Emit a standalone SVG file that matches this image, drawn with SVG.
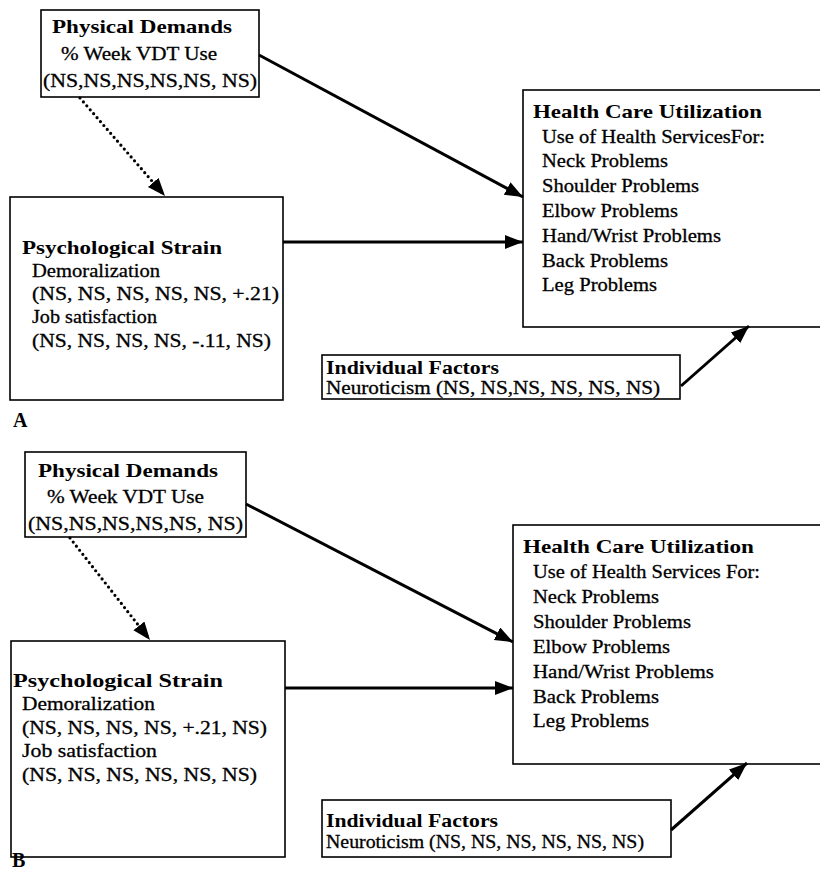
<svg xmlns="http://www.w3.org/2000/svg" width="820" height="872" viewBox="0 0 820 872">
  <style>
    .box { fill: #ffffff; stroke: #000000; stroke-width: 1.6; }
    .t { font-family: "Liberation Serif", "Times New Roman", serif; font-size: 19px; fill: #000000; stroke: #000000; stroke-width: 0.3; }
    .h { font-family: "Liberation Serif", "Times New Roman", serif; font-size: 19px; font-weight: bold; fill: #000000; }
    .lbl { font-family: "Liberation Serif", "Times New Roman", serif; font-size: 20px; font-weight: bold; fill: #000000; }
    .arrow { fill: none; stroke: #000000; stroke-width: 3; marker-end: url(#head); }
    .dotted { fill: none; stroke: #000000; stroke-width: 3.2; stroke-linecap: round; stroke-dasharray: 0 5.2; marker-end: url(#head); }
  </style>
  <defs>
    <marker id="head" markerUnits="userSpaceOnUse" markerWidth="19" markerHeight="15" refX="18" refY="7" orient="auto">
      <path d="M0,0 L18,7 L0,14 Z" fill="#000000"/>
    </marker>
  </defs>
  <rect width="820" height="872" fill="#ffffff"/>

  <!-- Panel A -->
  <g id="a-physical">
    <rect class="box" x="41" y="10" width="218" height="87"/>
    <text class="h" x="52" y="33" textLength="180" lengthAdjust="spacingAndGlyphs">Physical Demands</text>
    <text class="t" x="61" y="60" textLength="156" lengthAdjust="spacingAndGlyphs">% Week VDT Use</text>
    <text class="t" x="43" y="87" textLength="214" lengthAdjust="spacingAndGlyphs">(NS,NS,NS,NS,NS, NS)</text>
  </g>
  <g id="a-psych">
    <rect class="box" x="10" y="197" width="273" height="203"/>
    <text class="h" x="22" y="254" textLength="200" lengthAdjust="spacingAndGlyphs">Psychological Strain</text>
    <text class="t" x="32" y="277" textLength="128" lengthAdjust="spacingAndGlyphs">Demoralization</text>
    <text class="t" x="32" y="300" textLength="247" lengthAdjust="spacingAndGlyphs">(NS, NS, NS, NS, NS, +.21)</text>
    <text class="t" x="32" y="323" textLength="125" lengthAdjust="spacingAndGlyphs">Job satisfaction</text>
    <text class="t" x="32" y="347" textLength="239" lengthAdjust="spacingAndGlyphs">(NS, NS, NS, NS, -.11, NS)</text>
  </g>
  <g id="a-health">
    <rect class="box" x="523" y="90" width="320" height="237"/>
    <text class="h" x="533" y="118" textLength="229" lengthAdjust="spacingAndGlyphs">Health Care Utilization</text>
    <text class="t" x="542" y="143" textLength="223" lengthAdjust="spacingAndGlyphs">Use of Health ServicesFor:</text>
    <text class="t" x="542" y="167" textLength="126" lengthAdjust="spacingAndGlyphs">Neck Problems</text>
    <text class="t" x="542" y="192" textLength="157" lengthAdjust="spacingAndGlyphs">Shoulder Problems</text>
    <text class="t" x="542" y="217" textLength="136" lengthAdjust="spacingAndGlyphs">Elbow Problems</text>
    <text class="t" x="542" y="242" textLength="179" lengthAdjust="spacingAndGlyphs">Hand/Wrist Problems</text>
    <text class="t" x="542" y="267" textLength="126" lengthAdjust="spacingAndGlyphs">Back Problems</text>
    <text class="t" x="542" y="291" textLength="115" lengthAdjust="spacingAndGlyphs">Leg Problems</text>
  </g>
  <g id="a-individual">
    <rect class="box" x="322" y="355" width="358" height="44"/>
    <text class="h" x="326" y="374" textLength="173" lengthAdjust="spacingAndGlyphs">Individual Factors</text>
    <text class="t" x="326" y="394" textLength="334" lengthAdjust="spacingAndGlyphs">Neuroticism (NS, NS,NS, NS, NS, NS)</text>
  </g>
  <text class="lbl" x="13" y="427">A</text>

  <!-- Panel B -->
  <g id="b-physical">
    <rect class="box" x="25" y="452" width="221" height="85"/>
    <text class="h" x="38" y="477" textLength="180" lengthAdjust="spacingAndGlyphs">Physical Demands</text>
    <text class="t" x="47" y="503" textLength="157" lengthAdjust="spacingAndGlyphs">% Week VDT Use</text>
    <text class="t" x="28" y="530" textLength="215" lengthAdjust="spacingAndGlyphs">(NS,NS,NS,NS,NS, NS)</text>
  </g>
  <g id="b-psych">
    <rect class="box" x="11" y="641" width="274" height="216"/>
    <text class="h" x="13" y="687" textLength="210" lengthAdjust="spacingAndGlyphs">Psychological Strain</text>
    <text class="t" x="22" y="710" textLength="133" lengthAdjust="spacingAndGlyphs">Demoralization</text>
    <text class="t" x="22" y="734" textLength="245" lengthAdjust="spacingAndGlyphs">(NS, NS, NS, NS, +.21, NS)</text>
    <text class="t" x="22" y="757" textLength="135" lengthAdjust="spacingAndGlyphs">Job satisfaction</text>
    <text class="t" x="22" y="781" textLength="235" lengthAdjust="spacingAndGlyphs">(NS, NS, NS, NS, NS, NS)</text>
  </g>
  <g id="b-health">
    <rect class="box" x="513" y="525" width="320" height="239"/>
    <text class="h" x="523" y="553" textLength="231" lengthAdjust="spacingAndGlyphs">Health Care Utilization</text>
    <text class="t" x="533" y="578" textLength="227" lengthAdjust="spacingAndGlyphs">Use of Health Services For:</text>
    <text class="t" x="533" y="603" textLength="126" lengthAdjust="spacingAndGlyphs">Neck Problems</text>
    <text class="t" x="533" y="628" textLength="158" lengthAdjust="spacingAndGlyphs">Shoulder Problems</text>
    <text class="t" x="533" y="653" textLength="137" lengthAdjust="spacingAndGlyphs">Elbow Problems</text>
    <text class="t" x="533" y="678" textLength="181" lengthAdjust="spacingAndGlyphs">Hand/Wrist Problems</text>
    <text class="t" x="533" y="703" textLength="126" lengthAdjust="spacingAndGlyphs">Back Problems</text>
    <text class="t" x="533" y="727" textLength="116" lengthAdjust="spacingAndGlyphs">Leg Problems</text>
  </g>
  <g id="b-individual">
    <rect class="box" x="322" y="800" width="349" height="57"/>
    <text class="h" x="326" y="827" textLength="172" lengthAdjust="spacingAndGlyphs">Individual Factors</text>
    <text class="t" x="326" y="848" textLength="318" lengthAdjust="spacingAndGlyphs">Neuroticism (NS, NS, NS, NS, NS, NS)</text>
  </g>
  <text class="lbl" x="12" y="867">B</text>

  <!-- Connectors -->
  <g id="connectors">
    <line class="arrow" x1="259" y1="55" x2="523" y2="197"/>
    <line class="dotted" x1="80" y1="98" x2="165" y2="196"/>
    <line class="arrow" x1="283" y1="242" x2="523" y2="242"/>
    <line class="arrow" x1="681" y1="386" x2="749" y2="326"/>

    <line class="arrow" x1="246" y1="504" x2="513" y2="642"/>
    <line class="dotted" x1="70" y1="538" x2="150" y2="640"/>
    <line class="arrow" x1="285" y1="688" x2="513" y2="688"/>
    <line class="arrow" x1="671" y1="830" x2="747" y2="763"/>
  </g>
</svg>
